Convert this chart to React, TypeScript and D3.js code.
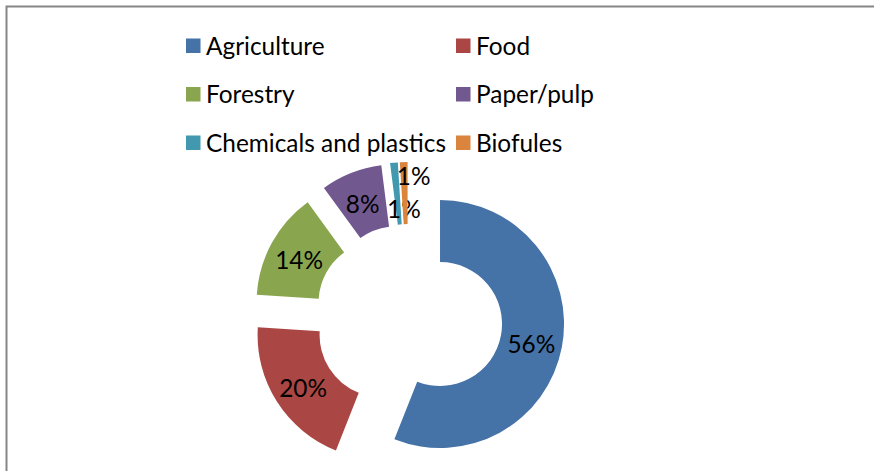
import React from "react";
import * as d3 from "d3";

const categories = ["Agriculture", "Food", "Forestry", "Paper/pulp", "Chemicals and plastics", "Biofules"];
const values = [56, 20, 14, 8, 1, 1];
const labels = ["56%", "20%", "14%", "8%", "1%", "1%"];
const colors = ["#4572A7", "#AA4643", "#89A54E", "#71588F", "#4198AF", "#DB843D"];
// label nudges (styling) for the two tiny slices, like the original's collision avoidance
const labelNudge: [number, number][] = [[0, 0], [0, 0], [0, 0], [0, 0], [7, 13], [9, -20]];

const W = 874;
const H = 471;
const FONT = "Lato, 'Open Sans', sans-serif";
const FS = 24.4;

export default function App() {
  const cx = 408.6;
  const cy = 318;
  const outerR = 124;
  const innerR = 62;
  const explode = 32;

  const pie = d3.pie<number>().sort(null).value((d) => d).startAngle(0).endAngle(Math.PI * 2);
  const arcs = pie(values);
  const arc = d3.arc<d3.PieArcDatum<number>>().innerRadius(innerR).outerRadius(outerR);

  // legend layout
  const legendX = [186, 456];
  const legendY = [46, 94.5, 143];

  return (
    <svg
      width={W}
      height={H}
      style={{ position: "absolute", left: 0, top: 0, background: "#fff" }}
      fontFamily={FONT}
    >
      <rect x={0} y={0} width={W} height={H} fill="#fff" />
      <path d={`M6.5,${H + 5} V6.5 H${W + 5}`} fill="none" stroke="#868686" strokeWidth={2} />

      {categories.map((c, i) => {
        const col = i % 2;
        const row = Math.floor(i / 2);
        const x = legendX[col];
        const y = legendY[row];
        return (
          <g key={c}>
            <rect x={x} y={y - 7.5} width={14.5} height={14.5} fill={colors[i]} />
            <text x={x + 20} y={y} dy="0.35em" fontSize={FS} fill="#000">
              {c}
            </text>
          </g>
        );
      })}

      {arcs.map((a, i) => {
        const mid = (a.startAngle + a.endAngle) / 2;
        const ox = cx + explode * Math.sin(mid);
        const oy = cy - explode * Math.cos(mid);
        const [lx, ly] = arc.centroid(a);
        return (
          <g key={i} transform={`translate(${ox},${oy})`}>
            <path d={arc(a) || ""} fill={colors[i]} />
            <text
              x={lx + labelNudge[i][0]}
              y={ly + labelNudge[i][1] + 3}
              textAnchor="middle"
              dy="0.35em"
              fontSize={FS}
              fill="#000"
            >
              {labels[i]}
            </text>
          </g>
        );
      })}
    </svg>
  );
}
